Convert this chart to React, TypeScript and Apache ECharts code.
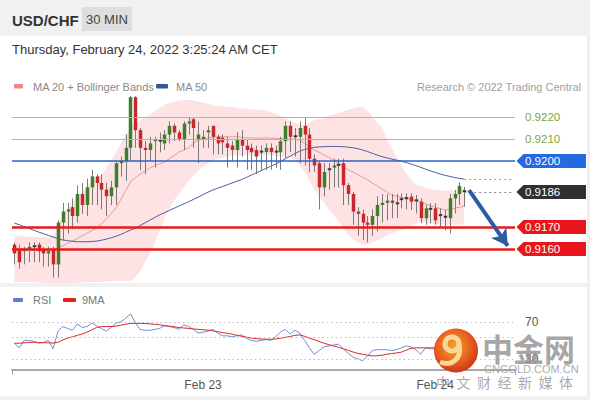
import React, { useEffect, useRef } from 'react';
import * as echarts from 'echarts';

const FONT = 'Liberation Sans, Arial, Helvetica, sans-serif';
const CJK = 'Noto Sans CJK SC, sans-serif';

const opens = [0.9162,0.9160,0.9159,0.9160,0.9161,0.9162,0.9160,0.9158,0.9160,0.9153,
0.9172,0.9177,0.9179,0.9175,0.9185,0.9180,0.9188,0.9193,0.9190,0.9187,
0.9184,0.9188,0.9199,0.9200,0.9206,0.9229,0.9214,0.9206,0.9205,0.9209,
0.9209,0.9208,0.9212,0.9216,0.9213,0.9210,0.9217,0.9219,0.9210,0.9210,
0.9213,0.9216,0.9211,0.92106,0.9208,0.9207,0.9205,0.9210,0.9207,0.9206,
0.9205,0.9204,0.9204,0.9206,0.9204,0.9204,0.9209,0.9216,0.9211,0.9211,
0.9216,0.9212,0.9201,0.9199,0.9188,0.9196,0.9197,0.9198,0.9199,0.9189,
0.9185,0.9177,0.9176,0.9172,0.9171,0.9175,0.9180,0.9181,0.9182,0.91805,
0.91825,0.9183,0.91838,0.9182,0.91815,0.9174,0.91785,0.91785,0.91752,0.91745,
0.9174,0.9183,0.9185,0.91866];

const closes = [0.9158,0.9154,0.9160,0.9161,0.91615,0.9159,0.9158,0.9159,0.9153,0.9172,
0.9177,0.9178,0.9175,0.9185,0.9180,0.9188,0.9193,0.9190,0.9187,0.9184,
0.9188,0.9199,0.9200,0.9206,0.9229,0.9214,0.9206,0.9205,0.9208,0.9210,
0.92095,0.9212,0.9216,0.9213,0.9210,0.9217,0.9218,0.9215,0.9212,0.9211,
0.9214,0.9211,0.9208,0.92085,0.9206,0.9205,0.9210,0.9207,0.9205,0.9204,
0.9202,0.92045,0.9206,0.9204,0.92045,0.9209,0.9216,0.9211,0.92115,0.9215,
0.9212,0.9201,0.9198,0.9188,0.9195,0.91965,0.9198,0.91985,0.9189,0.9185,
0.9177,0.9176,0.9172,0.9171,0.9175,0.9180,0.9181,0.9182,0.9181,0.9181,
0.91828,0.91832,0.91815,0.91822,0.9174,0.91785,0.9178,0.9173,0.91756,0.91748,
0.9183,0.9185,0.91887,0.9186];

const lows = [0.9153,0.9151,0.9153,0.9154,0.9154,0.9154,0.9152,0.9152,0.9147,0.9147,
0.9164,0.9167,0.9169,0.9172,0.9176,0.9175,0.9180,0.9180,0.9178,0.9175,
0.9180,0.9180,0.9193,0.9191,0.9200,0.9206,0.9196,0.9194,0.9200,0.9197,
0.9204,0.9205,0.9208,0.9209,0.9209,0.9205,0.9212,0.9206,0.9199,0.9206,
0.9206,0.9203,0.9203,0.9203,0.9197,0.9200,0.9197,0.9202,0.9196,0.9196,
0.9194,0.9196,0.9196,0.9196,0.9197,0.9196,0.9201,0.9204,0.9202,0.9199,
0.9198,0.9195,0.9195,0.9178,0.9184,0.9187,0.9188,0.9188,0.9180,0.9180,
0.9171,0.9166,0.9164,0.9163,0.9166,0.9168,0.9172,0.9173,0.9174,0.9174,
0.91785,0.9178,0.91777,0.91762,0.91717,0.9171,0.91717,0.9171,0.91701,0.91686,
0.9167,0.91762,0.9180,0.91792];

const highs = [0.9163,0.9162,0.9161,0.9163,0.9163,0.9163,0.9161,0.9161,0.9161,0.9173,
0.9181,0.9181,0.9183,0.9189,0.9190,0.9192,0.9196,0.9194,0.9194,0.9190,
0.9191,0.9200,0.9202,0.9212,0.92295,0.92295,0.9215,0.9209,0.9211,0.9211,
0.9213,0.9214,0.9218,0.9217,0.9214,0.9218,0.9220,0.9220,0.9218,0.9214,
0.9216,0.9216,0.9212,0.9212,0.9211,0.9209,0.9213,0.9214,0.9210,0.9208,
0.9207,0.9207,0.9208,0.9208,0.9207,0.9211,0.9218,0.9218,0.9215,0.9218,
0.9220,0.9215,0.9203,0.9200,0.9199,0.9199,0.9201,0.9201,0.9201,0.9190,
0.9186,0.9179,0.9178,0.9175,0.9178,0.9184,0.9185,0.9185,0.9185,0.9185,
0.91853,0.91853,0.91853,0.91845,0.9183,0.9180,0.91808,0.91808,0.91785,0.91777,
0.9185,0.91868,0.91903,0.91883];

const ma20 = [0.91605,0.91603,0.91600,0.91598,0.91596,0.91595,0.91594,0.91594,0.91596,0.91605,
0.91615,0.91626,0.91636,0.91648,0.91660,0.91672,0.91684,0.91695,0.91715,0.91737,
0.91760,0.91786,0.91825,0.91865,0.91905,0.91925,0.91940,0.91955,0.91968,0.91978,
0.91987,0.91995,0.92010,0.92025,0.92040,0.92050,0.92060,0.92080,0.92095,0.92100,
0.92104,0.92107,0.92110,0.92110,0.92110,0.92110,0.92110,0.92108,0.92106,0.92105,
0.92104,0.92104,0.92105,0.92104,0.92103,0.92102,0.92100,0.92100,0.92098,0.92095,
0.92080,0.92065,0.92050,0.92040,0.92028,0.92016,0.92005,0.91990,0.91975,0.91960,
0.91950,0.91938,0.91926,0.91914,0.91900,0.91886,0.91873,0.91860,0.91845,0.91840,
0.91835,0.91830,0.91825,0.91820,0.91814,0.91805,0.91797,0.91790,0.91783,0.91777,
0.91780,0.91785,0.91790,0.91795];

const ma50 = [0.91718,0.91710,0.91702,0.91694,0.91685,0.91677,0.91670,0.91662,0.91655,0.91647,
0.91641,0.91638,0.91635,0.91633,0.91633,0.91633,0.91634,0.91636,0.91640,0.91645,
0.91651,0.91658,0.91666,0.91676,0.91686,0.91695,0.91707,0.91719,0.91731,0.91743,
0.91755,0.91765,0.91775,0.91785,0.91795,0.91805,0.91815,0.91825,0.91836,0.91847,
0.91858,0.91868,0.91876,0.91884,0.91892,0.91900,0.91908,0.91916,0.91926,0.91936,
0.91946,0.91956,0.91966,0.91976,0.91986,0.91998,0.92010,0.92022,0.92034,0.92045,
0.92052,0.92058,0.92062,0.92064,0.92065,0.92066,0.92066,0.92066,0.92065,0.92063,
0.92060,0.92056,0.92050,0.92043,0.92035,0.92027,0.92020,0.92014,0.92009,0.92004,
0.91999,0.91993,0.91986,0.91979,0.91971,0.91963,0.91955,0.91948,0.91941,0.91935,
0.91930,0.91925,0.91921,0.91918];

const bbUpper = [0.91660,0.91660,0.91658,0.91656,0.91655,0.91654,0.91653,0.91652,0.91660,0.91710,
0.91750,0.91780,0.91810,0.91840,0.91860,0.91885,0.91905,0.91920,0.91936,0.91970,
0.92005,0.92040,0.92080,0.92120,0.92150,0.92170,0.92185,0.92200,0.92210,0.92225,
0.92240,0.92255,0.92263,0.92270,0.92275,0.92277,0.92277,0.92275,0.92270,0.92265,
0.92260,0.92255,0.92250,0.92248,0.92246,0.92245,0.92242,0.92240,0.92238,0.92235,
0.92233,0.92232,0.92230,0.92223,0.92215,0.92205,0.92195,0.92185,0.92175,0.92165,
0.92165,0.92175,0.92185,0.92190,0.92195,0.92205,0.92213,0.92218,0.92225,0.92233,
0.92240,0.92245,0.92245,0.92230,0.92200,0.92175,0.92155,0.92100,0.92060,0.92018,
0.91980,0.91945,0.91914,0.91895,0.91885,0.91878,0.91873,0.91868,0.91866,0.91865,
0.91866,0.91868,0.91870,0.91877];

const bbLower = [0.91450,0.91450,0.91450,0.91450,0.91450,0.91448,0.91446,0.91445,0.91443,0.91443,
0.91443,0.91445,0.91446,0.91447,0.91448,0.91449,0.91450,0.91450,0.91450,0.91452,
0.91455,0.91455,0.91455,0.91455,0.91455,0.91470,0.91500,0.91540,0.91580,0.91630,
0.91680,0.91740,0.91780,0.91820,0.91850,0.91880,0.91910,0.91935,0.91955,0.91975,
0.91990,0.92002,0.92010,0.92015,0.92020,0.92025,0.92025,0.92025,0.92025,0.92025,
0.92025,0.92026,0.92027,0.92025,0.92023,0.92020,0.92018,0.92018,0.92000,0.91980,
0.91950,0.91910,0.91870,0.91840,0.91810,0.91780,0.91755,0.91725,0.91695,0.91664,
0.91645,0.91628,0.91618,0.91622,0.91630,0.91640,0.91650,0.91660,0.91670,0.91678,
0.91686,0.91696,0.91706,0.91715,0.91723,0.91720,0.91716,0.91713,0.91711,0.91710,
0.91710,0.91710,0.91710,0.91710];

const rsi = [47,42,50,50,49,47,48,50,41,60,
65,63,61,68,64,65,69,66,63,60,
64,69,70,74,79,69,62,61,61,62,
63,66,65,64,62,67,65,62,58,59,
60,62,58,55,55,54,55,56,52,50,
49,50,51,50,54,59,62,57,61,58,
50,42,35,39,43,44,45,46,41,36,
32,30,28,33,39,40,40,40,39,40,
42,44,43,40,35,42,41,41,45,44,
52,55,58,57];

const rsiMa9 = [47,47,47.5,47.8,48,47.8,47.5,47.5,47.2,48,
50.5,52.5,54,55.5,57,59,61.5,64,65,65,
65,65.5,66.5,67.5,68.5,68.5,68.5,68.3,68,67.5,
67,66,65.5,64.8,64,63.5,63,62.5,62,61.6,
61.2,60.5,59.5,58.5,57.8,56.8,55.5,54.5,53.5,52.6,
52,51.5,51.3,51.3,51.6,52.4,53.3,54.3,55.5,56,
54.5,52.5,50.8,49,47,45.5,44,42.5,41,39.3,
37.5,36,35,34,33.2,33.5,34,35,35.8,36.5,
37.3,39.5,41.5,42,42,42,42,42,42.5,43,
44,45.5,47,48.5];

const SLOTS = 104; // 94 candles + empty space to the right
const dateTicks = [{ index: 39, label: 'Feb 23' }, { index: 87, label: 'Feb 24' }];
const minorLevels = [0.9220, 0.9210];
const pivotLevel = 0.9200;
const supportLevels = [0.9170, 0.9160];
const lastPrice = 0.9186;
const rsiLevels = [70, 54, 30];
const rsiLabelled = [70, 30];

const tagLevels = [
  [0, 0.9220, -1],
  [0, 0.9210, -1],
  [0, 0.9200, 0],
  [0, 0.9186, 1],
  [0, 0.9170, 2],
  [0, 0.9160, 2],
];
const tagColors = ['#2468e2', '#2f2f2f', '#e8161c'];

export default function App() {
  const ref = useRef<HTMLDivElement>(null);
  useEffect(() => {
    const chart = echarts.init(ref.current!, null, { renderer: 'svg' });
    const cats = Array.from({ length: SLOTS }, (_, i) => String(i));
    const candleData = opens.map((o, i) => [i, o, closes[i], lows[i], highs[i]]);
    const bbWidth = bbUpper.map((u, i) => +(u - bbLower[i]).toFixed(6));
    const last = opens.length - 1;

    const option: any = {
      animation: false,
      backgroundColor: '#f1f1f1',
      textStyle: { fontFamily: FONT },
      grid: [
        { left: 12, right: 75, top: 95, height: 187 },
        { left: 12, right: 75, top: 303.5, height: 66.5 },
      ],
      xAxis: [
        { gridIndex: 0, type: 'category', data: cats, boundaryGap: true, show: false },
        {
          gridIndex: 1, type: 'category', data: cats, boundaryGap: true,
          axisLine: { lineStyle: { color: '#a9a9a9', width: 2 } },
          axisTick: { show: true, interval: (i: number) => i === 0, length: 5, lineStyle: { color: '#a9a9a9' } },
          axisLabel: {
            interval: (i: number) => dateTicks.some((d) => d.index === i),
            formatter: (_v: string, i: number) => (dateTicks.find((d) => d.index === i) || { label: '' }).label,
            color: '#555', fontSize: 12, margin: 9, fontFamily: FONT,
          },
          splitLine: { show: false },
        },
      ],
      yAxis: [
        { gridIndex: 0, type: 'value', min: 0.9145, max: 0.9230, show: false },
        { gridIndex: 1, type: 'value', min: 18, max: 90, show: false },
      ],
      series: [
        {
          name: 'bbLower', type: 'line', data: bbLower, stack: 'bb', symbol: 'none', silent: true,
          lineStyle: { opacity: 0 }, z: 1,
        },
        {
          name: 'bbWidth', type: 'line', data: bbWidth, stack: 'bb', symbol: 'none', silent: true,
          lineStyle: { opacity: 0 }, areaStyle: { color: '#fde3e3', opacity: 1 }, z: 1,
        },
        {
          name: 'MA 20', type: 'line', data: ma20, symbol: 'none', silent: true,
          lineStyle: { color: '#e99a94', width: 1 }, z: 2,
        },
        {
          name: 'MA 50', type: 'line', data: ma50, symbol: 'none', silent: true,
          lineStyle: { color: '#4c5f9e', width: 1 }, z: 2,
          markLine: {
            silent: true, symbol: ['none', 'none'], label: { show: false }, precision: 6,
            data: [
              ...minorLevels.map((v) => ({ yAxis: v, lineStyle: { color: '#a8c27a', width: 1, type: 'solid' } })),
              { yAxis: pivotLevel, lineStyle: { color: '#2d62cc', width: 1.5, type: 'solid' } },
              ...supportLevels.map((v) => ({ yAxis: v, lineStyle: { color: '#e41c1c', width: 2.5, type: 'solid' } })),
              [
                { coord: [String(last), lastPrice], lineStyle: { color: '#888', width: 1, type: [2, 3] } },
                { coord: [String(SLOTS - 1), lastPrice] },
              ],
              [
                { coord: [String(last), ma50[last]], lineStyle: { color: '#999', width: 1, type: [2, 3] } },
                { coord: [String(SLOTS - 1), ma50[last]] },
              ],
            ],
          },
        },
        {
          name: 'candles', type: 'custom', z: 3, silent: true,
          data: candleData,
          encode: { x: 0, y: [1, 2, 3, 4] },
          renderItem: (_p: any, api: any) => {
            const i = api.value(0);
            const o = api.value(1), c = api.value(2), l = api.value(3), h = api.value(4);
            const po = api.coord([i, o]);
            const yc = api.coord([i, c])[1];
            const yl = api.coord([i, l])[1];
            const yh = api.coord([i, h])[1];
            const x = Math.round(po[0]) + 0.5;
            const w = Math.max(api.size([1, 0])[0] * 0.72, 2);
            const top = Math.min(po[1], yc), bot = Math.max(po[1], yc);
            const doji = Math.abs(c - o) < 0.00007;
            const fill = doji ? '#3a3a3a' : c > o ? '#3e7e2b' : '#c9272c';
            const rect = doji
              ? { x: x - w / 2, y: (top + bot) / 2 - 1, width: w, height: 2 }
              : { x: x - w / 2, y: top, width: w, height: Math.max(bot - top, 1.5) };
            return {
              type: 'group',
              children: [
                { type: 'line', shape: { x1: x, y1: yh, x2: x, y2: yl }, style: { stroke: '#7a7a7a', lineWidth: 1 } },
                { type: 'rect', shape: rect, style: { fill } },
              ],
            };
          },
        },
        {
          name: 'arrow', type: 'line', data: [], silent: true, z: 6,
          markLine: {
            silent: true, symbol: ['none', 'arrow'], symbolSize: [14, 16], label: { show: false }, precision: 6,
            lineStyle: { color: '#2c5ca6', width: 4, type: 'solid' },
            data: [[{ coord: [last + 0.7, 0.91868] }, { coord: [102.4, 0.91614] }]],
          },
        },
        {
          name: 'tags', type: 'custom', z: 7, silent: true, clip: false,
          data: tagLevels,
          encode: { x: 0, y: 1 },
          renderItem: (params: any, api: any) => {
            const v = api.value(1);
            const ci = api.value(2);
            const y = Math.round(api.coord([0, v])[1]);
            const cs = params.coordSys;
            const x0 = cs.x + cs.width;
            const label = {
              type: 'text', x: x0 + 10, y,
              style: {
                text: v.toFixed(4), fill: ci < 0 ? '#80a53c' : '#ffffff',
                fontSize: 11.5, fontFamily: FONT, align: 'left', verticalAlign: 'middle',
              },
            };
            if (ci < 0) return label;
            return {
              type: 'group',
              children: [
                {
                  type: 'polygon',
                  shape: { points: [[x0 + 1.5, y], [x0 + 8.5, y - 7], [x0 + 71, y - 7], [x0 + 71, y + 7], [x0 + 8.5, y + 7]] },
                  style: { fill: tagColors[ci] },
                },
                label,
              ],
            };
          },
        },
        {
          name: 'RSI', type: 'line', xAxisIndex: 1, yAxisIndex: 1, data: rsi, symbol: 'none', silent: true,
          lineStyle: { color: '#6d8fd8', width: 1 }, z: 3,
          markLine: {
            silent: true, symbol: ['none', 'none'], precision: 2,
            lineStyle: { color: '#bdbdbd', width: 1, type: [1.5, 3] },
            label: { position: 'end', distance: 10, color: '#555', fontSize: 12, fontFamily: FONT },
            data: rsiLevels.map((v) => ({
              yAxis: v,
              label: { show: rsiLabelled.includes(v), formatter: String(v) },
            })),
          },
        },
        {
          name: '9MA', type: 'line', xAxisIndex: 1, yAxisIndex: 1, data: rsiMa9, symbol: 'none', silent: true,
          lineStyle: { color: '#d92a2a', width: 1 }, z: 3,
        },
      ],
      graphic: [
        { type: 'rect', z: -10, silent: true, shape: { x: 0, y: 36, width: 587, height: 247 }, style: { fill: '#ffffff' } },
        { type: 'rect', z: -10, silent: true, shape: { x: 0, y: 287, width: 587, height: 109 }, style: { fill: '#ffffff' } },
        { type: 'text', x: 12, y: 20, style: { text: 'USD/CHF', fill: '#333', font: `bold 15px ${FONT}`, verticalAlign: 'middle' } },
        { type: 'rect', shape: { x: 82, y: 7, width: 50, height: 24, r: 1 }, style: { fill: '#dedede' } },
        { type: 'text', x: 107, y: 19.5, style: { text: '30 MIN', fill: '#444', font: `13px ${FONT}`, align: 'center', verticalAlign: 'middle' } },
        { type: 'text', x: 12, y: 49, style: { text: 'Thursday, February 24, 2022 3:25:24 AM CET', fill: '#333', font: `13px ${FONT}`, verticalAlign: 'middle' } },
        { type: 'rect', shape: { x: 14, y: 84, width: 9, height: 4.5, r: 1 }, style: { fill: '#ef8585' } },
        { type: 'text', x: 33, y: 86.5, style: { text: 'MA 20 + Bollinger Bands', fill: '#8a8a8a', font: `11px ${FONT}`, verticalAlign: 'middle' } },
        { type: 'rect', shape: { x: 156, y: 84, width: 12, height: 4.5, r: 1 }, style: { fill: '#2f5a8f' } },
        { type: 'text', x: 176, y: 86.5, style: { text: 'MA 50', fill: '#8a8a8a', font: `11px ${FONT}`, verticalAlign: 'middle' } },
        { type: 'text', x: 581, y: 86.5, style: { text: 'Research © 2022 Trading Central', fill: '#a0a0a0', font: `11px ${FONT}`, align: 'right', verticalAlign: 'middle' } },
        { type: 'rect', shape: { x: 13, y: 298, width: 10, height: 4, r: 1 }, style: { fill: '#5b80cf' } },
        { type: 'text', x: 33, y: 299.5, style: { text: 'RSI', fill: '#777', font: `11px ${FONT}`, verticalAlign: 'middle' } },
        { type: 'rect', shape: { x: 63, y: 298, width: 13, height: 4, r: 1 }, style: { fill: '#e0201c' } },
        { type: 'text', x: 82, y: 299.5, style: { text: '9MA', fill: '#777', font: `11px ${FONT}`, verticalAlign: 'middle' } },
        // watermark
        {
          type: 'circle', z: 50, silent: true, shape: { cx: 456, cy: 350.5, r: 22 },
          style: {
            fill: { type: 'radial', x: 0.45, y: 0.4, r: 0.6, colorStops: [
              { offset: 0, color: '#f6a02a' }, { offset: 0.6, color: '#e8641f' }, { offset: 1, color: '#cf3519' },
            ] },
          },
        },
        { type: 'circle', z: 51, silent: true, shape: { cx: 452, cy: 344, r: 7 }, style: { fill: 'none', stroke: '#f9d894', lineWidth: 5 } },
        {
          type: 'bezierCurve', z: 51, silent: true,
          shape: { x1: 459, y1: 345, cpx1: 462, cpy1: 358, cpx2: 452, cpy2: 367, x2: 440, y2: 362 },
          style: { stroke: '#f9d894', lineWidth: 5, fill: 'none' },
        },
        { type: 'text', z: 50, silent: true, x: 482, y: 347, style: { text: '中金网', fill: 'rgba(150,150,150,0.85)', font: `bold 31px ${CJK}`, verticalAlign: 'middle' } },
        { type: 'text', z: 50, silent: true, x: 484, y: 369, style: { text: 'CNGOLD.COM.CN', fill: 'rgba(160,160,160,0.9)', font: `11px ${FONT}`, verticalAlign: 'middle' } },
        ...['中', '文', '财', '经', '新', '媒', '体'].map((ch, k) => ({
          type: 'text', z: 50, silent: true, x: 443 + k * 20.5, y: 382,
          style: { text: ch, fill: 'rgba(140,140,140,0.75)', font: `14px ${CJK}`, align: 'center', verticalAlign: 'middle' },
        })),
      ],
    };
    chart.setOption(option);
    return () => chart.dispose();
  }, []);
  return <div ref={ref} style={{ position: 'absolute', left: 0, top: 0, width: 590, height: 400 }} />;
}
